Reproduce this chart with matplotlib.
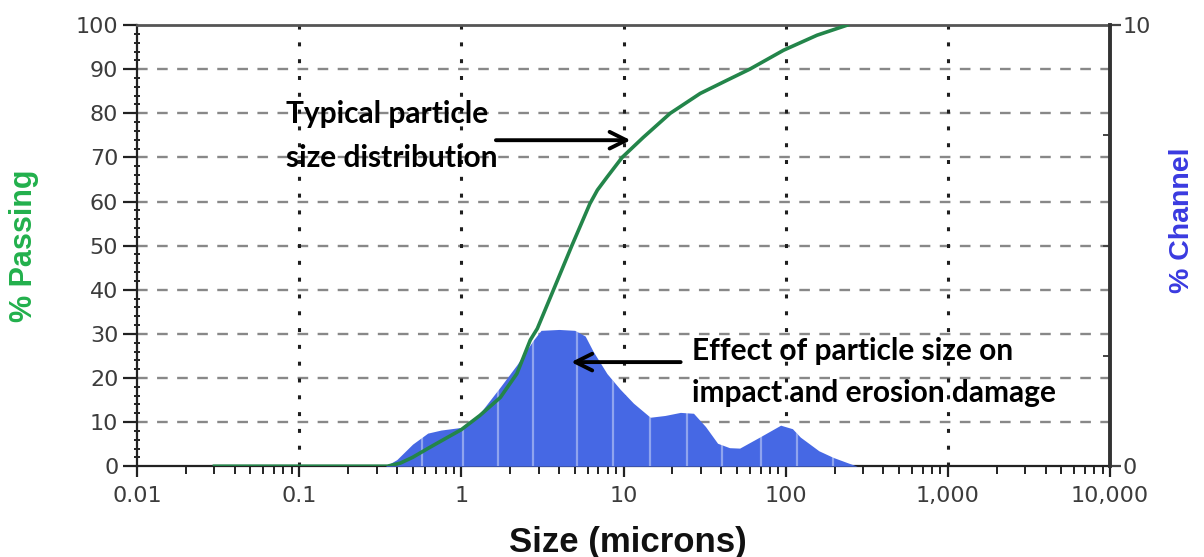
import matplotlib.pyplot as plt
from matplotlib.ticker import LogLocator, MultipleLocator, FixedLocator, NullFormatter

# cumulative curve (% passing)
size_pass = [0.03, 0.2, 0.35, 0.42, 0.5, 0.62, 0.8, 1.0, 1.3, 1.74, 2.2, 2.66, 2.94, 3.7, 4.8,
             6.2, 6.9, 7.9, 9.8, 13.2, 19.4, 29.7, 43.5, 60, 97, 156, 240]
pct_pass = [0, 0, 0, 0.7, 2.0, 4.0, 6.3, 8.3, 11.5, 15.6, 21, 28.6, 31.2, 40, 50,
            59.5, 62.6, 65.5, 70, 74.5, 80, 84.5, 87.5, 90, 94.3, 97.7, 100]

# channel distribution (% channel, right axis 0-10)
size_chan = [0.34, 0.40, 0.50, 0.62, 0.75, 1.0, 1.3, 1.74, 2.2, 2.78, 3.1, 4.0, 5.0, 5.8,
             6.5, 7.9, 9.5, 11.5, 14.6, 18, 22.4, 27, 32, 38, 45, 52, 69, 93, 110, 123,
             160, 196, 240, 276]
pct_chan = [0, 0.15, 0.5, 0.75, 0.82, 0.88, 1.2, 1.8, 2.3, 2.86, 3.08, 3.1, 3.08, 2.95,
            2.6, 2.1, 1.75, 1.43, 1.11, 1.15, 1.22, 1.2, 0.9, 0.52, 0.42, 0.41, 0.66, 0.93,
            0.85, 0.66, 0.35, 0.2, 0.08, 0]
channel_edges = [0.345, 0.575, 1.03, 1.69, 2.78, 5.2, 8.6, 14.6, 24.7, 40.6, 69.9, 117, 195]

x_ticks = [0.01, 0.1, 1, 10, 100, 1000, 10000]
x_labels = ["0.01", "0.1", "1", "10", "100", "1,000", "10,000"]

plt.rcParams['font.family'] = ['Liberation Sans', 'DejaVu Sans']
tick_col = '#3c3c3c'
tick_font = dict(family='DejaVu Sans', size=16)

fig = plt.figure(figsize=(12.04, 5.57), dpi=100)
ax = fig.add_axes([0.1138, 0.163, 0.922 - 0.1138, 0.955 - 0.163])
ax2 = ax.twinx()

ax.set_xscale('log')
ax.set_xlim(0.01, 10000)
ax.set_ylim(0, 100)
ax2.set_ylim(0, 10)

# grid
for v in range(10, 100, 10):
    ax.axhline(v, color='#888888', ls=(0, (4.5, 4)), lw=1.7, zorder=0)
for d in x_ticks[1:-1]:
    ax.axvline(d, color='#1e1e1e', ls=(0, (1.3, 4.2)), lw=2.2, zorder=0)

# channel fill on the right axis
ax2.set_xscale('log')
poly = ax2.fill_between(size_chan, pct_chan, 0, color='#4668e4', lw=0, zorder=2)
vl = ax2.vlines(channel_edges, 0, 3.2, color='white', alpha=0.4, lw=1.6, zorder=3)
vl.set_clip_path(poly.get_paths()[0], transform=ax2.transData)

# cumulative curve drawn on top
ax3 = ax.twinx()
ax3.set_ylim(0, 100)
ax3.set_xscale('log')
ax3.set_xlim(0.01, 10000)
ax3.plot(size_pass, pct_pass, color='#23854a', lw=2.6, zorder=4)
ax3.axis('off')

# axes styling
ax.set_xticks(x_ticks)
ax.set_xticklabels(x_labels, fontdict=tick_font)
ax.xaxis.set_minor_locator(LogLocator(base=10, subs=range(2, 10), numticks=20))
ax.xaxis.set_minor_formatter(NullFormatter())
ax.tick_params(axis='x', which='major', direction='out', length=8, width=1.6,
               colors='#222222', labelcolor=tick_col, pad=6)
ax.tick_params(axis='x', which='minor', direction='out', length=6, width=1.4, colors='#222222')
ax.set_yticks(range(0, 101, 10))
ax.set_yticklabels([str(v) for v in range(0, 101, 10)], fontdict=tick_font)
ax.yaxis.set_minor_locator(MultipleLocator(2))
ax.tick_params(axis='y', which='major', direction='out', length=10, width=1.6,
               colors='#222222', labelcolor=tick_col, pad=3.5)
ax.tick_params(axis='y', which='minor', direction='inout', length=5, width=1.4, colors='#222222')

ax2.set_yticks([0, 10])
ax2.set_yticklabels(["0", "10"], fontdict=tick_font)
ax2.yaxis.set_minor_locator(FixedLocator([2.5, 5, 7.5]))
ax2.tick_params(axis='y', which='major', direction='out', length=8, width=1.6,
                colors='#444444', labelcolor=tick_col, pad=1)
ax2.tick_params(axis='y', which='minor', direction='in', length=5, width=1.4, colors='#444444')

ax.spines['left'].set_color('#222222')
ax.spines['left'].set_linewidth(1.6)
ax.spines['bottom'].set_color('#222222')
ax.spines['bottom'].set_linewidth(1.6)
ax.spines['top'].set_color('#555555')
ax.spines['top'].set_linewidth(2.0)
ax2.spines['right'].set_color('#333333')
ax2.spines['right'].set_linewidth(2.8)
for s in ['left', 'bottom', 'top']:
    ax2.spines[s].set_visible(False)

ax.set_ylabel('% Passing', color='#22b04c', fontsize=22, fontweight='bold')
ax.yaxis.set_label_coords(-0.101, 0.50)
ax2.set_ylabel('% Channel', color='#3a3ae0', fontsize=20.5, fontweight='bold', rotation=90)
ax2.yaxis.set_label_coords(1.061, 0.558)
fig.text(0.5216, 5 / 557, 'Size (microns)', color='#111111', fontsize=25, fontweight='bold',
         ha='center', va='baseline')

# annotations
note_font = dict(family=['Lato', 'DejaVu Sans'], fontsize=21.5, fontweight='bold', color='black',
                 ha='left', va='baseline')
ax3.annotate('', xy=(11.5, 73.9), xytext=(1.57, 73.9),
             arrowprops=dict(arrowstyle='->', lw=2.8, color='black', mutation_scale=30))
ax3.text(0.0835, 77.8, 'Typical particle', **note_font)
ax3.text(0.0835, 67.8, 'size distribution', **note_font)
ax3.annotate('', xy=(4.57, 23.6), xytext=(23.4, 23.6),
             arrowprops=dict(arrowstyle='->', lw=2.8, color='black', mutation_scale=30))
ax3.text(26.5, 24.0, 'Effect of particle size on', **note_font)
ax3.text(26.5, 14.5, 'impact and erosion damage', **note_font)

fig.savefig('out.png', dpi=100)
